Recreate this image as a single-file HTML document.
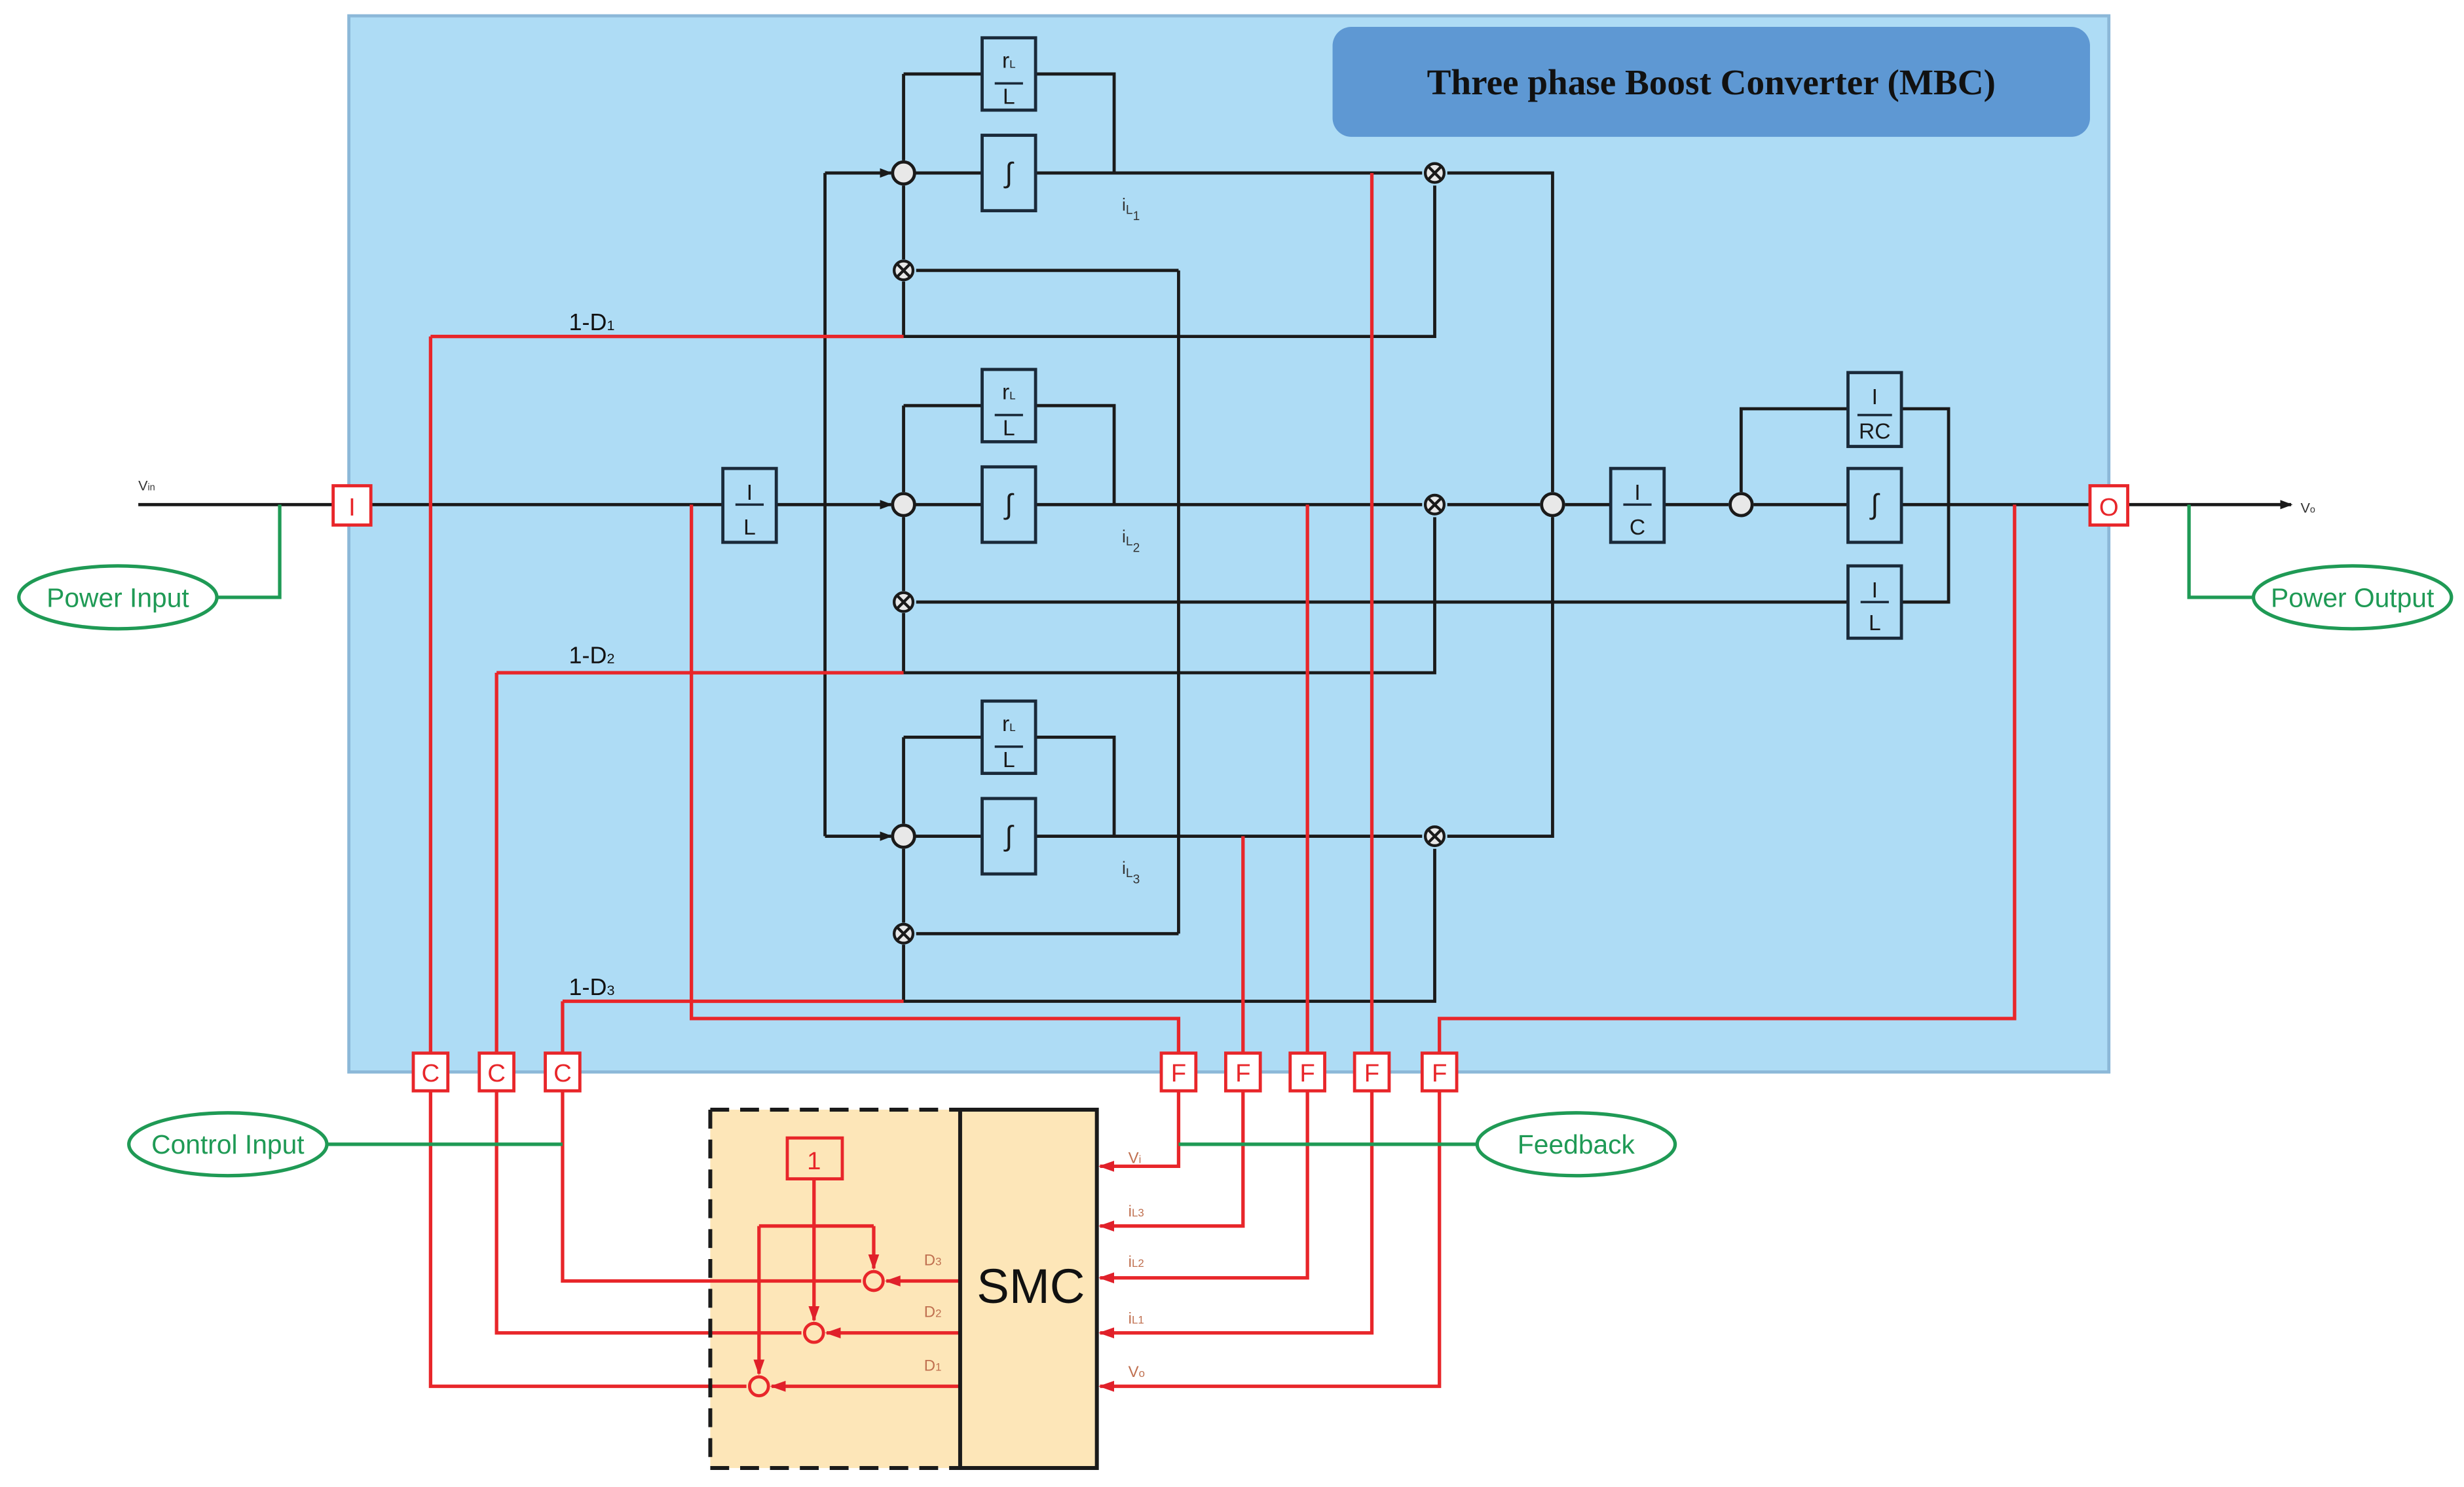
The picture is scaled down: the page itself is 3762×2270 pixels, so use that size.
<!DOCTYPE html>
<html><head><meta charset="utf-8"><style>html,body{margin:0;padding:0;background:#fff}svg{display:block}</style></head><body>
<svg width="3762" height="2270" viewBox="0 0 1568 946" xmlns="http://www.w3.org/2000/svg" font-family="Liberation Sans, sans-serif">
<defs>
<marker id="ab" markerWidth="8" markerHeight="8" refX="7" refY="4" orient="auto" markerUnits="userSpaceOnUse"><path d="M0,1 L8,4 L0,7z" fill="#1a1a1a"/></marker>
<marker id="ar" markerWidth="10" markerHeight="8" refX="9" refY="4" orient="auto" markerUnits="userSpaceOnUse"><path d="M0,0.5 L10,4 L0,7.5z" fill="#e0202a"/></marker>
</defs>
<rect x="0" y="0" width="1568" height="946" fill="#fff"/>
<rect x="222" y="10" width="1120" height="672" fill="#aedcf5" stroke="#8cb8d8" stroke-width="2"/>
<rect x="848" y="17" width="482" height="70" rx="12" fill="#5e98d3"/>
<text x="1089" y="60" text-anchor="middle" font-family="Liberation Serif, serif" font-weight="bold" font-size="23" fill="#111">Three phase Boost Converter (MBC)</text>

<!-- SMC background first -->
<rect x="452" y="706" width="246" height="228" fill="#fde6b8"/>

<g stroke="#1a1a1a" stroke-width="2" fill="none">
<path d="M88,321 H236"/><path d="M236,321 H460"/><path d="M494,321 H567" marker-end="url(#ab)"/>
<path d="M1354,321 H1458" marker-end="url(#ab)"/>
<path d="M525,110 V532"/>
<path d="M525,110 H567" marker-end="url(#ab)"/>
<path d="M525,532 H567" marker-end="url(#ab)"/>
</g>
<g stroke="#1a1a1a" stroke-width="2" fill="none">
<path d="M575,47 H625 M659,47 H709 V110 M575,47 V102" />
<path d="M582,110 H625 M659,110 H905"/>
<path d="M575,165 V118"/><path d="M575,214 V179"/>
<path d="M750,172 H583"/>
<path d="M575,214 H913 V118"/>
<path d="M921,110 H988 V313"/>
<path d="M575,258 H625 M659,258 H709 V321 M575,258 V313"/>
<path d="M582,321 H625 M659,321 H905"/>
<path d="M575,376 V329"/><path d="M575,428 V390"/>
<path d="M575,428 H913 V329"/>
<path d="M921,321 H980"/>
<path d="M575,469 H625 M659,469 H709 V532 M575,469 V524"/>
<path d="M582,532 H625 M659,532 H905"/>
<path d="M575,587 V540"/><path d="M575,637 V601"/>
<path d="M750,594 H583"/>
<path d="M575,637 H913 V540"/>
<path d="M921,532 H988 V329"/>
<path d="M750,172 V594"/>
<path d="M1176,383 H583"/>
<path d="M1210,383 H1240 V260 H1210 M1176,260 H1108 V313"/>
<path d="M996,321 H1025 M1059,321 H1100 M1116,321 H1176 M1210,321 H1330"/>
</g>
<g stroke="#1a2a3a" stroke-width="2" fill="#aedcf5">
<rect x="625" y="24" width="34" height="46"/><rect x="625" y="86" width="34" height="48"/>
<rect x="625" y="235" width="34" height="46"/><rect x="625" y="297" width="34" height="48"/>
<rect x="625" y="446" width="34" height="46"/><rect x="625" y="508" width="34" height="48"/>
<rect x="460" y="298" width="34" height="47"/>
<rect x="1025" y="298" width="34" height="47"/>
<rect x="1176" y="237" width="34" height="47"/>
<rect x="1176" y="298" width="34" height="47"/>
<rect x="1176" y="360" width="34" height="46"/>
</g>
<g font-size="14" fill="#1a1a1a" text-anchor="middle">
<text x="642" y="43">r<tspan font-size="7">L</tspan></text><text x="642" y="66">L</text>
<text x="642" y="254">r<tspan font-size="7">L</tspan></text><text x="642" y="277">L</text>
<text x="642" y="465">r<tspan font-size="7">L</tspan></text><text x="642" y="488">L</text>
<text x="642" y="116" font-size="18">∫</text><text x="642" y="327" font-size="18">∫</text><text x="642" y="538" font-size="18">∫</text>
<text x="1193" y="327" font-size="18">∫</text>
<text x="477" y="318">I</text><text x="477" y="340">L</text>
<text x="1042" y="318">I</text><text x="1042" y="340">C</text>
<text x="1193" y="257">I</text><text x="1193" y="279">RC</text>
<text x="1193" y="380">I</text><text x="1193" y="401">L</text>
</g>
<g stroke="#1a2a3a" stroke-width="1.5" fill="none">
<path d="M633,53 H651 M633,264 H651 M633,475 H651 M468,321 H486 M1033,321 H1051 M1182,264 H1204 M1184,383 H1202"/>
</g>
<g font-size="11" fill="#333">
<text x="714" y="134">i<tspan font-size="8" dy="2">L</tspan><tspan font-size="8" dy="4">1</tspan></text>
<text x="714" y="345">i<tspan font-size="8" dy="2">L</tspan><tspan font-size="8" dy="4">2</tspan></text>
<text x="714" y="556">i<tspan font-size="8" dy="2">L</tspan><tspan font-size="8" dy="4">3</tspan></text>
<text x="88" y="312" font-size="9">V<tspan font-size="6">in</tspan></text>
<text x="1464" y="326" font-size="9">V<tspan font-size="6">o</tspan></text>
</g>
<g font-size="15" fill="#111">
<text x="362" y="210">1-D<tspan font-size="9">1</tspan></text>
<text x="362" y="422">1-D<tspan font-size="9">2</tspan></text>
<text x="362" y="633">1-D<tspan font-size="9">3</tspan></text>
</g>
<g stroke="#1a1a1a" stroke-width="2" fill="#e8e8e8">
<circle cx="575" cy="110" r="7"/><circle cx="575" cy="321" r="7"/><circle cx="575" cy="532" r="7"/>
<circle cx="988" cy="321" r="7"/><circle cx="1108" cy="321" r="7"/>
</g>
<g stroke="#1a1a1a" stroke-width="1.8" fill="#e8e8e8">
<circle cx="575" cy="172" r="6"/><path d="M571,168 l8,8 M571,176 l8,-8"/>
<circle cx="575" cy="383" r="6"/><path d="M571,379 l8,8 M571,387 l8,-8"/>
<circle cx="575" cy="594" r="6"/><path d="M571,590 l8,8 M571,598 l8,-8"/>
<circle cx="913" cy="110" r="6"/><path d="M909,106 l8,8 M909,114 l8,-8"/>
<circle cx="913" cy="321" r="6"/><path d="M909,317 l8,8 M909,325 l8,-8"/>
<circle cx="913" cy="532" r="6"/><path d="M909,528 l8,8 M909,536 l8,-8"/>
</g>

<g stroke="#e8262a" stroke-width="2.2" fill="none">
<path d="M274,214 H575 M274,214 V670"/>
<path d="M316,428 H575 M316,428 V670"/>
<path d="M358,637 H575 M358,637 V670"/>
<path d="M440,321 V648 H750 V670"/>
<path d="M791,532 V670"/>
<path d="M832,321 V670"/>
<path d="M873,110 V670"/>
<path d="M1282,321 V648 H916 V670"/>
<path d="M274,694 V882 H475"/>
<path d="M316,694 V848 H510"/>
<path d="M358,694 V815 H548"/>
<path d="M611,815 H564" marker-end="url(#ar)"/>
<path d="M611,848 H526" marker-end="url(#ar)"/>
<path d="M611,882 H491" marker-end="url(#ar)"/>
<path d="M518,750 V780 M483,780 H556"/>
<path d="M556,780 V807" marker-end="url(#ar)"/>
<path d="M518,780 V840" marker-end="url(#ar)"/>
<path d="M483,780 V874" marker-end="url(#ar)"/>
<path d="M750,694 V742 H700" marker-end="url(#ar)"/>
<path d="M791,694 V780 H700" marker-end="url(#ar)"/>
<path d="M832,694 V813 H700" marker-end="url(#ar)"/>
<path d="M873,694 V848 H700" marker-end="url(#ar)"/>
<path d="M916,694 V882 H700" marker-end="url(#ar)"/>
</g>
<g stroke="#e8262a" stroke-width="2" fill="#fff">
<rect x="212" y="309" width="24" height="25"/><rect x="1330" y="309" width="24" height="25"/>
<rect x="263" y="670" width="22" height="24"/><rect x="305" y="670" width="22" height="24"/><rect x="347" y="670" width="22" height="24"/>
<rect x="739" y="670" width="22" height="24"/><rect x="780" y="670" width="22" height="24"/><rect x="821" y="670" width="22" height="24"/><rect x="862" y="670" width="22" height="24"/><rect x="905" y="670" width="22" height="24"/>
</g>
<g fill="#e8262a" font-size="16" text-anchor="middle">
<text x="224" y="328">I</text><text x="1342" y="328">O</text>
<text x="274" y="688">C</text><text x="316" y="688">C</text><text x="358" y="688">C</text>
<text x="750" y="688">F</text><text x="791" y="688">F</text><text x="832" y="688">F</text><text x="873" y="688">F</text><text x="916" y="688">F</text>
</g>

<g stroke="#1f9a55" stroke-width="2.2" fill="#fff">
<path d="M138,380 H178 V321" fill="none"/>
<path d="M1433,380 H1393 V321" fill="none"/>
<path d="M208,728 H358" fill="none"/>
<path d="M940,728 H750" fill="none"/>
<ellipse cx="75" cy="380" rx="63" ry="20"/>
<ellipse cx="1497" cy="380" rx="63" ry="20"/>
<ellipse cx="145" cy="728" rx="63" ry="20"/>
<ellipse cx="1003" cy="728" rx="63" ry="20"/>
</g>
<g fill="#1f9a55" font-size="17" text-anchor="middle">
<text x="75" y="386">Power Input</text><text x="1497" y="386">Power Output</text>
<text x="145" y="734">Control Input</text><text x="1003" y="734">Feedback</text>
</g>

<path d="M452,706 V934 H611 M452,706 H611" stroke="#1a1a1a" stroke-width="2.5" stroke-dasharray="12,7" fill="none"/>
<path d="M611,706 H698 V934 H611 Z" stroke="#1a1a1a" stroke-width="2.5" fill="none"/>
<text x="656" y="829" text-anchor="middle" font-size="31" fill="#111">SMC</text>
<rect x="501" y="724" width="35" height="26" fill="#fde6b8" stroke="#e8262a" stroke-width="2"/>
<text x="518" y="744" text-anchor="middle" font-size="16" fill="#e8262a">1</text>
<g stroke="#e8262a" stroke-width="2" fill="#fde6b8">
<circle cx="556" cy="815" r="6"/><circle cx="518" cy="848" r="6"/><circle cx="483" cy="882" r="6"/>
</g>
<g fill="#c07050" font-size="10">
<text x="588" y="805">D<tspan font-size="7">3</tspan></text><text x="588" y="838">D<tspan font-size="7">2</tspan></text><text x="588" y="872">D<tspan font-size="7">1</tspan></text>
<text x="718" y="740">V<tspan font-size="7">i</tspan></text>
<text x="718" y="774">i<tspan font-size="7">L3</tspan></text>
<text x="718" y="806">i<tspan font-size="7">L2</tspan></text>
<text x="718" y="842">i<tspan font-size="7">L1</tspan></text>
<text x="718" y="876">V<tspan font-size="7">o</tspan></text>
</g>
</svg>
</body></html>
